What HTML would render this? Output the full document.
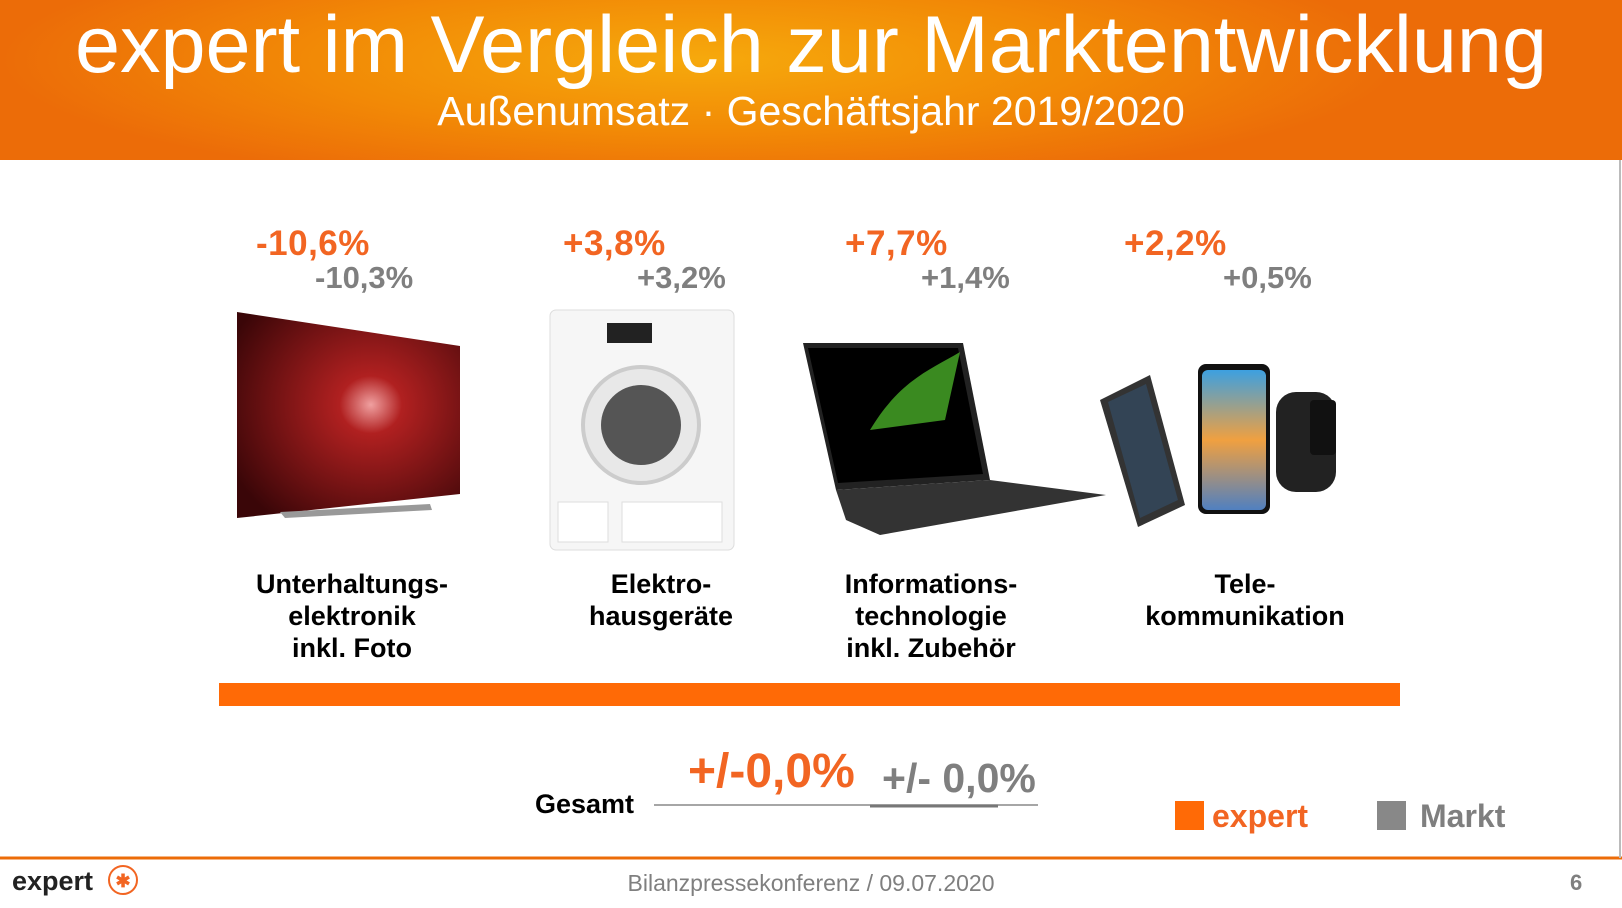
<!DOCTYPE html>
<html><head><meta charset="utf-8"><style>
body{margin:0;width:1622px;height:908px;position:relative;overflow:hidden;background:#fff;font-family:"Liberation Sans",sans-serif}
.a{position:absolute;white-space:nowrap}
.hd{position:absolute;left:0;top:0;width:1622px;height:160px;background:radial-gradient(ellipse 700px 130px at 700px 60px,#f6a90c 0%,#f28a06 55%,#ec6c08 100%)}
.o{color:#f26522;font-weight:bold;font-size:35px;letter-spacing:0.5px}
.g{color:#7f7f7f;font-weight:bold;font-size:31px}
.l{color:#000;font-weight:bold;font-size:27px;text-align:center;line-height:32px;transform:translateX(-50%)}
</style></head><body>
<div class="hd"></div>
<div class="a" style="left:0;width:1622px;text-align:center;top:0px;color:#fff;font-size:81px;line-height:90px">expert im Vergleich zur Marktentwicklung</div>
<div class="a" style="left:0;width:1622px;text-align:center;top:88px;color:#fff;font-size:41px;line-height:46px">Außenumsatz · Geschäftsjahr 2019/2020</div>

<div class="a o" style="left:256px;top:224px">-10,6%</div><div class="a g" style="left:315px;top:260px">-10,3%</div>
<div class="a o" style="left:563px;top:224px">+3,8%</div><div class="a g" style="left:637px;top:260px">+3,2%</div>
<div class="a o" style="left:845px;top:224px">+7,7%</div><div class="a g" style="left:921px;top:260px">+1,4%</div>
<div class="a o" style="left:1124px;top:224px">+2,2%</div><div class="a g" style="left:1223px;top:260px">+0,5%</div>

<svg class="a" style="left:0;top:0" width="1622" height="908">
<defs><radialGradient id="tv" cx="0.6" cy="0.45" r="0.7"><stop offset="0" stop-color="#f0a0a0"/><stop offset="0.2" stop-color="#b02020"/><stop offset="1" stop-color="#3a0608"/></radialGradient>
<linearGradient id="ph" x1="0" y1="0" x2="0" y2="1"><stop offset="0" stop-color="#3da0e0"/><stop offset="0.5" stop-color="#f0a040"/><stop offset="1" stop-color="#5080c0"/></linearGradient></defs>
<polygon points="237,312 460,346 460,494 237,518" fill="url(#tv)"/>
<polygon points="280,512 430,504 432,510 285,518" fill="#999"/>
<rect x="550" y="310" width="184" height="240" rx="6" fill="#f6f6f6" stroke="#ddd"/>
<rect x="607" y="323" width="45" height="20" fill="#222"/>
<circle cx="641" cy="425" r="58" fill="#e8e8e8" stroke="#ccc" stroke-width="4"/>
<circle cx="641" cy="425" r="40" fill="#555"/>
<rect x="558" y="502" width="50" height="40" fill="#fff" stroke="#ddd"/><rect x="622" y="502" width="100" height="40" fill="#fff" stroke="#ddd"/>
<polygon points="803,343 963,343 990,480 836,490" fill="#222"/>
<polygon points="808,348 958,348 983,474 838,483" fill="#000"/>
<path d="M870,430 C900,380 930,370 960,352 L945,420 Z" fill="#3a8a20"/>
<polygon points="836,490 990,480 1106,495 880,535 846,520" fill="#333"/>
<polygon points="1100,400 1150,375 1185,505 1138,527" fill="#333"/>
<polygon points="1108,402 1146,384 1178,500 1140,518" fill="#334455"/>
<rect x="1198" y="364" width="72" height="150" rx="8" fill="#111"/>
<rect x="1202" y="370" width="64" height="140" rx="6" fill="url(#ph)"/>
<rect x="1276" y="392" width="60" height="100" rx="20" fill="#222"/>
<rect x="1310" y="400" width="26" height="55" rx="4" fill="#111"/>
<rect x="219" y="683" width="1181" height="23" fill="#ff6a06"/>
<line x1="654" y1="805" x2="1038" y2="805" stroke="#888" stroke-width="1.5"/>
<line x1="870" y1="806" x2="998" y2="806" stroke="#777" stroke-width="3"/>
<rect x="1175" y="801" width="29" height="29" fill="#ff6a06"/>
<rect x="1377" y="801" width="29" height="29" fill="#888"/>
<line x1="0" y1="858" x2="1622" y2="858" stroke="#ec6c08" stroke-width="3"/>
<line x1="1620" y1="160" x2="1620" y2="858" stroke="#bbb" stroke-width="2"/>
<circle cx="123" cy="880" r="14" fill="#fff" stroke="#f26522" stroke-width="2"/>
<text x="123" y="887" font-family="Liberation Sans" font-size="18" font-weight="bold" fill="#f26522" text-anchor="middle">✱</text>
</svg>

<div class="a l" style="left:352px;top:568px">Unterhaltungs-<br>elektronik<br>inkl. Foto</div>
<div class="a l" style="left:661px;top:568px">Elektro-<br>hausgeräte</div>
<div class="a l" style="left:931px;top:568px">Informations-<br>technologie<br>inkl. Zubehör</div>
<div class="a l" style="left:1245px;top:568px">Tele-<br>kommunikation</div>

<div class="a" style="left:535px;top:789px;font-size:27px;font-weight:bold">Gesamt</div>
<div class="a" style="left:688px;top:744px;font-size:48px;font-weight:bold;color:#f26522">+/-0,0%</div>
<div class="a" style="left:882px;top:755px;font-size:41px;font-weight:bold;color:#7f7f7f">+/- 0,0%</div>
<div class="a" style="left:1212px;top:798px;font-size:32px;font-weight:bold;color:#f26522">expert</div>
<div class="a" style="left:1420px;top:798px;font-size:32px;font-weight:bold;color:#7f7f7f">Markt</div>

<div class="a" style="left:12px;top:866px;font-size:27px;font-weight:bold;color:#222">expert</div>
<div class="a" style="left:0;width:1622px;text-align:center;top:870px;font-size:23px;color:#7f7f7f">Bilanzpressekonferenz / 09.07.2020</div>
<div class="a" style="left:1570px;top:870px;font-size:22px;font-weight:bold;color:#7f7f7f">6</div>
</body></html>
